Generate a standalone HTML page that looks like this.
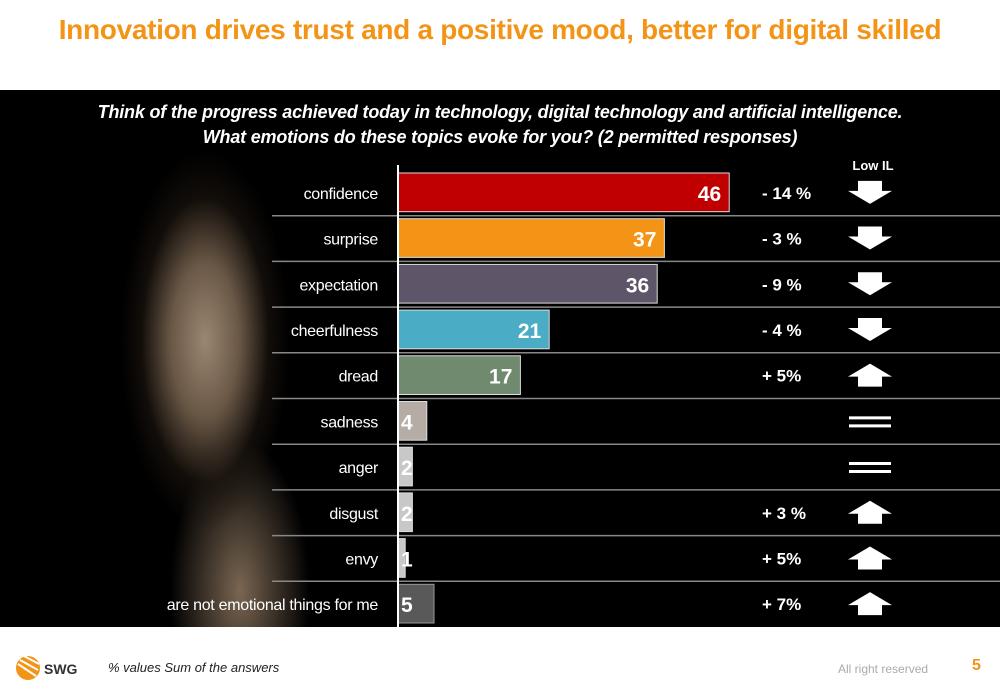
<!DOCTYPE html>
<html><head><meta charset="utf-8"><style>
body{margin:0;width:1000px;height:692px;background:#fff;font-family:"Liberation Sans",sans-serif;overflow:hidden;position:relative}
#title{position:absolute;left:0;width:1000px;top:14px;text-align:center;color:#f39417;font-weight:bold;font-size:28px;letter-spacing:-0.3px}
#panel{position:absolute;left:0;top:90px;width:1000px;height:537px;background:#000;overflow:hidden}
#face{position:absolute;left:0;top:0;width:400px;height:537px;background:radial-gradient(ellipse 85px 190px at 205px 250px,#9a8672 0%,#6a5846 40%,rgba(30,22,16,0.6) 75%,rgba(0,0,0,0) 100%),radial-gradient(ellipse 70px 150px at 240px 500px,#7a6652,rgba(0,0,0,0))}
#q{position:absolute;left:0;width:1000px;top:10px;text-align:center;color:#fff;font-weight:bold;font-style:italic;font-size:18px;line-height:25px;letter-spacing:-0.2px}
svg{position:absolute;left:0;top:0}
#foot{position:absolute;top:660px;left:108px;font-size:13px;font-style:italic;color:#222}
</style></head><body>
<div id="title">Innovation drives trust and a positive mood, better for digital skilled</div>
<div id="panel">
<div id="face"></div>
<div id="q">Think of the progress achieved today in technology, digital technology and artificial intelligence.<br>What emotions do these topics evoke for you? (2 permitted responses)</div>
</div>
<svg id="chart" width="1000" height="692"></svg>
<svg width="80" height="40" style="left:14px;top:652px"><circle cx="14" cy="16" r="12" fill="#f39417"/><path d="M4 12 L22 24 M6 8 L24 18 M10 4 L25 12" stroke="#fff" stroke-width="2"/><text x="30" y="22" font-weight="bold" font-size="14" fill="#333" font-family="Liberation Sans">SWG</text></svg>
<div id="foot">% values Sum of the answers</div>
<div style="position:absolute;left:838px;top:662px;font-size:12px;color:#aaa">All right reserved</div>
<div style="position:absolute;left:972px;top:657px;font-size:16px;font-weight:bold;color:#f39417">5</div>
<script>
const categories=["confidence","surprise","expectation","cheerfulness","dread","sadness","anger","disgust","envy","are not emotional things for me"];
const values=[46,37,36,21,17,4,2,2,1,5];
const changes=["- 14 %","- 3 %","- 9 %","- 4 %","+ 5%","","","+ 3 %","+ 5%","+ 7%"];
const trends=["down","down","down","down","up","eq","eq","up","up","up"];
const colors=["#c00000","#f39417","#5f5569","#4bacc6","#6f8a6e","#b5aca6","#c8c8c8","#c8c8c8","#c8c8c8","#595959"];
const svg=document.getElementById('chart');const NS='http://www.w3.org/2000/svg';
const x0=398,scale=7.2,top0=170,pitch=45.7;
const x=v=>x0+v*scale;const y=i=>top0+i*pitch;
function mk(t,a){const e=document.createElementNS(NS,t);for(const k in a)e.setAttribute(k,a[k]);svg.appendChild(e);return e;}
const lt=mk('text',{x:873,y:170,fill:'#fff','font-size':13,'font-weight':'bold','text-anchor':'middle','font-family':'Liberation Sans'});lt.textContent='Low IL';


categories.forEach((c,i)=>{
 if(i>0){const s=mk('line',{x1:272,x2:1000,y1:y(i),y2:y(i),stroke:'#888','stroke-width':1.5});
 
 }
 const cy=y(i)+pitch/2;
 const r=mk('rect',{x:x0,y:y(i)+3,width:Math.max(values[i]*scale,3),height:pitch-7,fill:colors[i],stroke:i==9?'#999':'#ddd','stroke-width':1});
 
 
 const l=mk('text',{x:378,y:cy+6,fill:'#fff','font-size':16,'text-anchor':'end','font-family':'Liberation Sans','letter-spacing':'-0.3'});l.textContent=c;
 
 
 const big=values[i]>=10;
 const v=mk('text',{x:big?x(values[i])-8:x0+3,y:cy+8,fill:'#fff','font-size':21,'font-weight':'bold','text-anchor':big?'end':'start','font-family':'Liberation Sans'});v.textContent=values[i];
 
 
 if(changes[i]){const t=mk('text',{x:762,y:cy+6,fill:'#fff','font-size':17,'font-weight':'bold','font-family':'Liberation Sans'});t.textContent=changes[i];
 
 }
 const ax=870;let a;
 if(trends[i]=='down')a=mk('path',{d:`M${ax-12} ${cy-12}h24v10h10l-22 13l-22-13h10z`,fill:'#fff'});
 else if(trends[i]=='up')a=mk('path',{d:`M${ax-12} ${cy+11}h24v-10h10l-22-13l-22 13h10z`,fill:'#fff'});
 else a=mk('path',{d:`M${ax-21} ${cy-5}h42v3h-42z M${ax-21} ${cy+3}h42v3h-42z`,fill:'#fff'});
 
 
});
const ax=mk('line',{x1:x0,x2:x0,y1:top0-5,y2:627,stroke:'#fff','stroke-width':2});


</script>
</body></html>
